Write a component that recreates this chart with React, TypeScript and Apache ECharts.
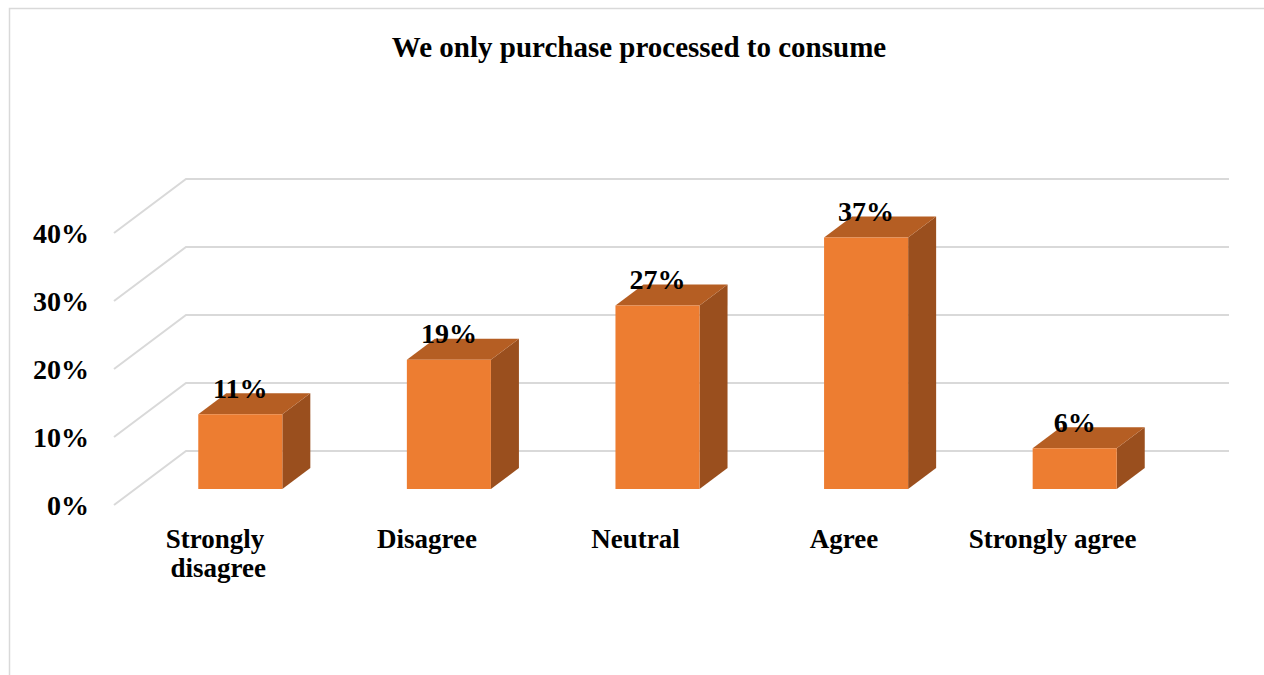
import React, { useEffect, useRef } from "react";
import * as echarts from "echarts";

// Survey response shares (percent)
const categories: string[] = ["Strongly disagree", "Disagree", "Neutral", "Agree", "Strongly agree"];
const shares: number[] = [11, 19, 27, 37, 6];
const yTicks: number[] = [0, 10, 20, 30, 40];
const chartTitle = "We only purchase processed to consume";

const FONT = '"Liberation Serif", "Times New Roman", serif';

// pseudo-3D geometry: wall depth and bar placement within it
const WALL_DX = 72;
const WALL_DY = -54;
const BAR_SHIFT_X = 22;
const BAR_SHIFT_Y = -16;
const BAR_DEPTH_X = 28;
const BAR_DEPTH_Y = -21;

export default function App() {
  const ref = useRef<HTMLDivElement>(null);

  useEffect(() => {
    if (!ref.current) return;
    const chart = echarts.init(ref.current, null, { renderer: "svg" });

    const option: any = {
      animation: false,
      backgroundColor: "#ffffff",
      title: {
        text: chartTitle,
        left: 634,
        textAlign: "center",
        top: 27,
        textStyle: { fontFamily: FONT, fontWeight: "bold", fontSize: 29, color: "#000" },
      },
      graphic: [
        {
          type: "rect",
          shape: { x: 9.5, y: 8.5, width: 1400, height: 800 },
          style: { fill: "none", stroke: "#d9d9d9", lineWidth: 1.5 },
          silent: true,
          z: -1,
        },
      ],
      grid: { left: 114, right: 107, top: 233, bottom: 170 },
      xAxis: {
        type: "category",
        data: categories,
        axisLine: { show: false },
        axisTick: { show: false },
        axisLabel: {
          margin: 19,
          fontFamily: FONT,
          fontWeight: "bold",
          fontSize: 27,
          color: "#000",
          lineHeight: 29,
          width: 185,
          overflow: "break",
          interval: 0,
        },
      },
      yAxis: {
        type: "value",
        min: 0,
        max: 40,
        interval: 10,
        splitLine: { show: false },
        axisLine: { show: false },
        axisTick: { show: false },
        axisLabel: {
          margin: 25,
          fontFamily: FONT,
          fontWeight: "bold",
          fontSize: 28,
          color: "#000",
          formatter: (v: number) => `${v}%`,
        },
      },
      series: [
        {
          // side wall and back wall gridlines
          type: "custom",
          silent: true,
          data: yTicks.map((t) => [0, t]),
          renderItem: (params: any, api: any) => {
            const cs = params.coordSys;
            const v = api.value(1);
            const y = api.coord([0, v])[1];
            const left = cs.x;
            const right = cs.x + cs.width;
            return {
              type: "polyline",
              shape: {
                points: [
                  [left, y],
                  [left + WALL_DX, y + WALL_DY],
                  [right + WALL_DX, y + WALL_DY],
                ],
              },
              style: { fill: "none", stroke: "#d9d9d9", lineWidth: 2 },
            };
          },
          z: 1,
        },
        {
          type: "custom",
          data: shares.map((v, i) => [i, v]),
          renderItem: (params: any, api: any) => {
            const i = api.value(0);
            const v = api.value(1);
            const base = api.coord([i, 0]);
            const top = api.coord([i, v]);
            const band = api.size([1, 0])[0];
            const w = band * 0.403;
            const x0 = base[0] - w / 2 + BAR_SHIFT_X;
            const x1 = x0 + w;
            const yb = base[1] + BAR_SHIFT_Y;
            const yt = top[1] + BAR_SHIFT_Y;
            return {
              type: "group",
              children: [
                {
                  type: "polygon",
                  shape: {
                    points: [
                      [x1, yt],
                      [x1 + BAR_DEPTH_X, yt + BAR_DEPTH_Y],
                      [x1 + BAR_DEPTH_X, yb + BAR_DEPTH_Y],
                      [x1, yb],
                    ],
                  },
                  style: { fill: "#9a4f1e" },
                },
                {
                  type: "polygon",
                  shape: {
                    points: [
                      [x0, yt],
                      [x1, yt],
                      [x1 + BAR_DEPTH_X, yt + BAR_DEPTH_Y],
                      [x0 + BAR_DEPTH_X, yt + BAR_DEPTH_Y],
                    ],
                  },
                  style: { fill: "#b55e23" },
                },
                {
                  type: "rect",
                  shape: { x: x0, y: yt, width: w, height: yb - yt },
                  style: { fill: "#ed7d31" },
                },
                {
                  type: "text",
                  style: {
                    text: `${v}%`,
                    x: (x0 + x1) / 2,
                    y: yt - 26,
                    align: "center",
                    verticalAlign: "middle",
                    fontFamily: FONT,
                    fontWeight: "bold",
                    fontSize: 28,
                    fill: "#000",
                  },
                },
              ],
            };
          },
          z: 2,
        },
      ],
    };

    chart.setOption(option);
    return () => chart.dispose();
  }, []);

  return (
    <div
      ref={ref}
      style={{ position: "fixed", left: 0, top: 0, width: 1264, height: 675, background: "#fff" }}
    />
  );
}
